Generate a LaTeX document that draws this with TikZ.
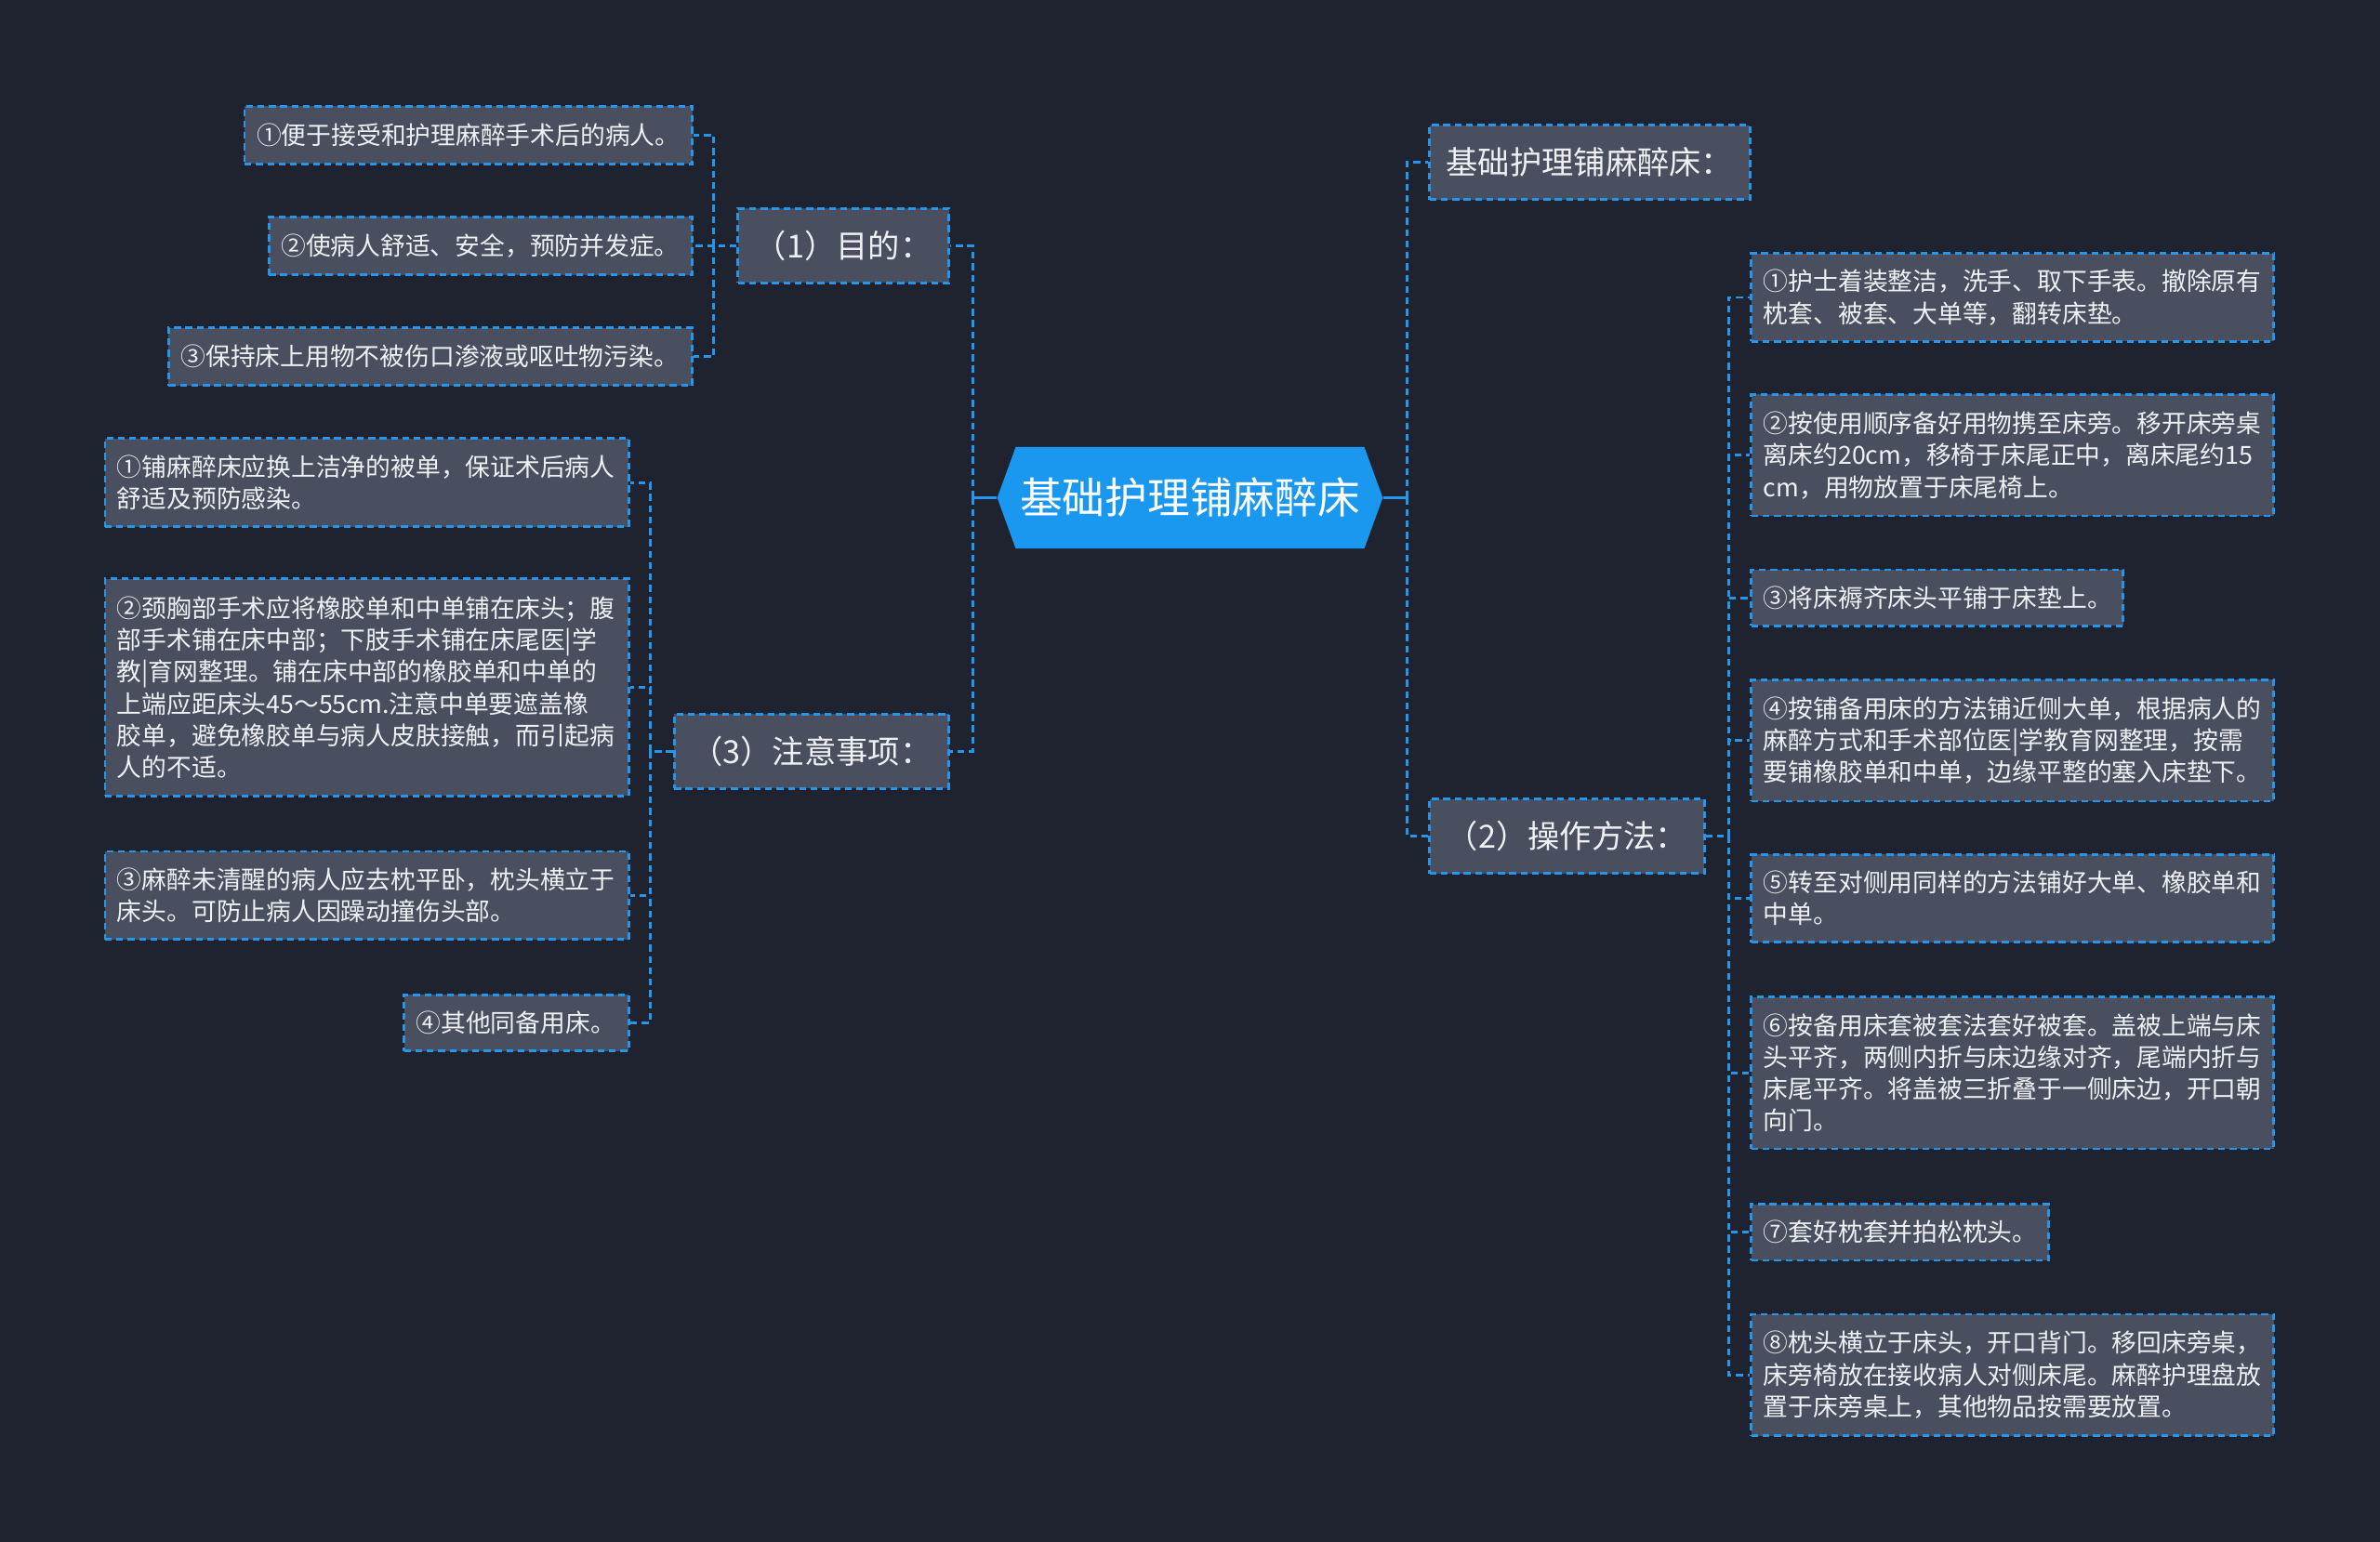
\documentclass[tikz,border=0pt]{standalone}
\usepackage{fontspec}
\setmainfont{Noto Sans CJK SC}
\usepackage{tikz}
\usetikzlibrary{shapes.symbols}

\definecolor{bgdark}{RGB}{31,35,47}
\definecolor{boxgray}{RGB}{73,79,94}
\definecolor{linkblue}{RGB}{36,150,235}
\definecolor{rootblue}{RGB}{26,152,240}
\definecolor{txtwhite}{RGB}{238,240,244}

\tikzset{
  link/.style={color=linkblue, line width=1.7, dash pattern={on 4.5pt off 3pt}},
  stub/.style={color=linkblue, line width=2},
  rootnode/.style={shape=signal, signal to=west and east, signal pointer angle=140,
    fill=rootblue, text=white, minimum width=254pt, minimum height=67pt, inner sep=0pt,
    font=\fontsize{28}{32}\selectfont},
  partnode/.style={draw=linkblue, line width=1.7, dash pattern={on 4.5pt off 3pt},
    fill=boxgray, text=txtwhite, minimum height=49pt, inner sep=0pt,
    font=\fontsize{21}{25}\selectfont},
  leafnode/.style={draw=linkblue, line width=1.7, dash pattern={on 4.5pt off 3pt},
    fill=boxgray, text=txtwhite, inner xsep=8pt, inner ysep=0pt, align=left,
    font=\fontsize{16.4}{21}\selectfont},
}

\begin{document}
\begin{tikzpicture}[x=1pt,y=1pt,yscale=-1,xscale=1]
%set diagram size 1568 x 1016
\fill [bgdark] (0,0) rectangle (1568,1016);
\useasboundingbox (0,0) rectangle (1568,1016);

% Root Node
\node [rootnode] (root) at (784,328) {基础护理铺麻醉床};

% Part Nodes
\node [partnode, anchor=east, minimum width=139pt] (aim) at (626,162) {（1）目的：};
\node [partnode, anchor=east, minimum width=181pt] (note) at (626,495) {（3）注意事项：};
\node [partnode, anchor=west, minimum width=211pt] (title) at (941,107) {基础护理铺麻醉床：};
\node [partnode, anchor=west, minimum width=181pt] (method) at (941,551) {（2）操作方法：};

% Text Node: aims
\node [leafnode, anchor=east, text width=279pt, minimum height=38pt] (aimA) at (457,89) {①便于接受和护理麻醉手术后的病人。};
\node [leafnode, anchor=east, text width=263pt, minimum height=38pt] (aimB) at (457,162) {②使病人舒适、安全，预防并发症。};
\node [leafnode, anchor=east, text width=329pt, minimum height=38pt] (aimC) at (457,235) {③保持床上用物不被伤口渗液或呕吐物污染。};

% Text Node: notes
\node [leafnode, anchor=east, text width=329pt, minimum height=58pt] (noteA) at (415,318) {①铺麻醉床应换上洁净的被单，保证术后病人\\舒适及预防感染。};
\node [leafnode, anchor=east, text width=329pt, minimum height=143pt] (noteB) at (415,453) {②颈胸部手术应将橡胶单和中单铺在床头；腹\\部手术铺在床中部；下肢手术铺在床尾医|学\\教|育网整理。铺在床中部的橡胶单和中单的\\上端应距床头45～55cm.注意中单要遮盖橡\\胶单，避免橡胶单与病人皮肤接触，而引起病\\人的不适。};
\node [leafnode, anchor=east, text width=329pt, minimum height=58pt] (noteC) at (415,590) {③麻醉未清醒的病人应去枕平卧，枕头横立于\\床头。可防止病人因躁动撞伤头部。};
\node [leafnode, anchor=east, text width=132pt, minimum height=37pt] (noteD) at (415,674) {④其他同备用床。};

% Text Node: method
\node [leafnode, anchor=west, text width=328pt, minimum height=58pt] (stepA) at (1153,196) {①护士着装整洁，洗手、取下手表。撤除原有\\枕套、被套、大单等，翻转床垫。};
\node [leafnode, anchor=west, text width=328pt, minimum height=80pt] (stepB) at (1153,300) {②按使用顺序备好用物携至床旁。移开床旁桌\\离床约20cm，移椅于床尾正中，离床尾约15\\cm，用物放置于床尾椅上。};
\node [leafnode, anchor=west, text width=229pt, minimum height=37pt] (stepC) at (1153,394) {③将床褥齐床头平铺于床垫上。};
\node [leafnode, anchor=west, text width=328pt, minimum height=80pt] (stepD) at (1153,488) {④按铺备用床的方法铺近侧大单，根据病人的\\麻醉方式和手术部位医|学教育网整理，按需\\要铺橡胶单和中单，边缘平整的塞入床垫下。};
\node [leafnode, anchor=west, text width=328pt, minimum height=58pt] (stepE) at (1153,592) {⑤转至对侧用同样的方法铺好大单、橡胶单和\\中单。};
\node [leafnode, anchor=west, text width=328pt, minimum height=100pt] (stepF) at (1153,707) {⑥按备用床套被套法套好被套。盖被上端与床\\头平齐，两侧内折与床边缘对齐，尾端内折与\\床尾平齐。将盖被三折叠于一侧床边，开口朝\\向门。};
\node [leafnode, anchor=west, text width=180pt, minimum height=37pt] (stepG) at (1153,812) {⑦套好枕套并拍松枕头。};
\node [leafnode, anchor=west, text width=328pt, minimum height=80pt] (stepH) at (1153,906) {⑧枕头横立于床头，开口背门。移回床旁桌，\\床旁椅放在接收病人对侧床尾。麻醉护理盘放\\置于床旁桌上，其他物品按需要放置。};

%Straight Lines: root
\draw [stub] (root.west) -- ++(-16,0) coordinate (rootL);
\draw [stub] (root.east) -- ++(16,0) coordinate (rootR);
\foreach \n in {aim,note} \draw [link] (rootL) |- (\n.east);
\foreach \n in {title,method} \draw [link] (rootR) |- (\n.west);

%Straight Lines: parts
\foreach \n in {aimA,aimB,aimC} \draw [link] (aim.west) -- ++(-15,0) |- (\n.east);
\foreach \n in {noteA,noteB,noteC,noteD} \draw [link] (note.west) -- ++(-15,0) |- (\n.east);
\foreach \n in {stepA,stepB,stepC,stepD,stepE,stepF,stepG,stepH} \draw [link] (method.east) -- ++(15,0) |- (\n.west);

\end{tikzpicture}
\end{document}
